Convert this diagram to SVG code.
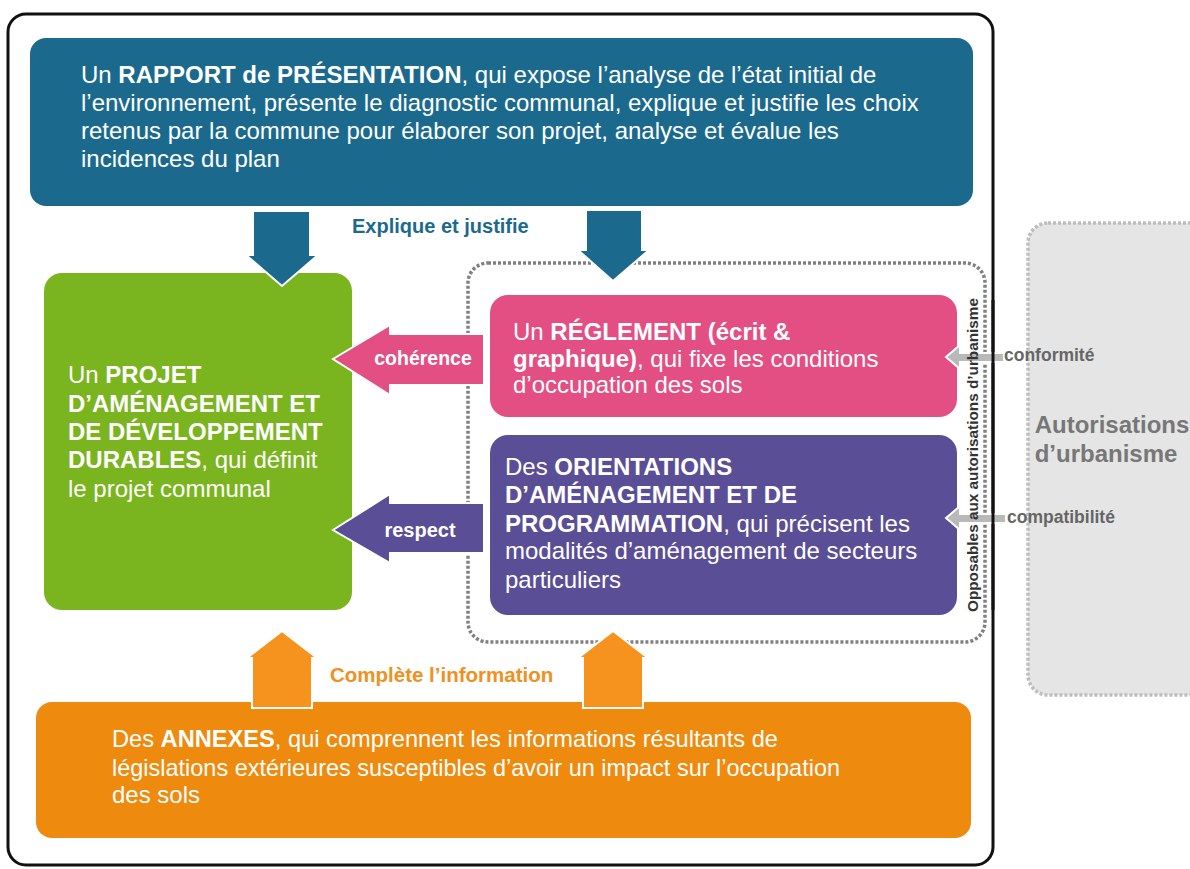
<svg xmlns="http://www.w3.org/2000/svg" width="1190" height="869" viewBox="0 0 1190 869">
<style>
  .t { font-family: "Liberation Sans", Arial, sans-serif; fill: #ffffff; font-size: 24px; }
  .b { font-weight: bold; }
  .lbl { font-family: "Liberation Sans", Arial, sans-serif; font-weight: bold; }
  .arw { stroke: #ffffff; stroke-width: 2; stroke-linejoin: miter; }
</style>
<rect width="1190" height="869" fill="#ffffff"/>

<!-- right grey box -->
<g id="autorisations">
  <rect x="1028" y="223" width="190" height="472" rx="20" fill="#e5e5e5" stroke="#bdbdbd" stroke-width="3.5" stroke-dasharray="3 2"/>
  <text class="lbl" x="1112" y="433" font-size="24" fill="#777777" text-anchor="middle">Autorisations</text>
  <text class="lbl" x="1106" y="462" font-size="24" fill="#777777" text-anchor="middle">d’urbanisme</text>
</g>

<!-- outer frame -->
<rect x="8" y="14" width="985" height="851" rx="18" fill="#ffffff" stroke="#111111" stroke-width="3"/>

<!-- dotted group -->
<rect x="468" y="263" width="517" height="379" rx="20" fill="none" stroke="#808080" stroke-width="3.5" stroke-dasharray="3 2"/>

<g id="rapport">
  <rect x="30" y="38" width="943" height="168" rx="16" fill="#1b6a8e"/>
  <text class="t" x="81" y="83">Un <tspan class="b">RAPPORT de PRÉSENTATION</tspan>, qui expose l’analyse de l’état initial de</text>
  <text class="t" x="81" y="111">l’environnement, présente le diagnostic communal, explique et justifie les choix</text>
  <text class="t" x="81" y="139">retenus par la commune pour élaborer son projet, analyse et évalue les</text>
  <text class="t" x="81" y="167">incidences du plan</text>
</g>

<g id="padd">
  <rect x="44" y="273" width="308" height="337" rx="18" fill="#7ab41e"/>
  <text class="t" x="68" y="383">Un <tspan class="b">PROJET</tspan></text>
  <text class="t b" x="68" y="412">D’AMÉNAGEMENT ET</text>
  <text class="t b" x="68" y="440">DE DÉVELOPPEMENT</text>
  <text class="t" x="68" y="468"><tspan class="b">DURABLES</tspan>, qui définit</text>
  <text class="t" x="68" y="497">le projet communal</text>
</g>

<g id="reglement">
  <rect x="490" y="295" width="467" height="122" rx="18" fill="#e34f82"/>
  <text class="t" x="513" y="340">Un <tspan class="b">RÉGLEMENT (écrit &amp;</tspan></text>
  <text class="t" x="513" y="367"><tspan class="b">graphique)</tspan>, qui fixe les conditions</text>
  <text class="t" x="513" y="393">d’occupation des sols</text>
</g>

<g id="oap">
  <rect x="490" y="435" width="467" height="180" rx="18" fill="#5a4e96"/>
  <text class="t" x="505" y="475">Des <tspan class="b">ORIENTATIONS</tspan></text>
  <text class="t b" x="505" y="503">D’AMÉNAGEMENT ET DE</text>
  <text class="t" x="505" y="532"><tspan class="b">PROGRAMMATION</tspan>, qui précisent les</text>
  <text class="t" x="505" y="559">modalités d’aménagement de secteurs</text>
  <text class="t" x="505" y="588">particuliers</text>
</g>

<g id="annexes">
  <rect x="36" y="702" width="935" height="136" rx="16" fill="#ee8a0e"/>
  <text class="t" x="112" y="747" textLength="666" lengthAdjust="spacingAndGlyphs">Des <tspan class="b">ANNEXES</tspan>, qui comprennent les informations résultants de</text>
  <text class="t" x="112" y="776" textLength="728" lengthAdjust="spacingAndGlyphs">législations extérieures susceptibles d’avoir un impact sur l’occupation</text>
  <text class="t" x="112" y="803" textLength="88" lengthAdjust="spacingAndGlyphs">des sols</text>
</g>

<g id="connectors">
  <!-- blue down arrows -->
  <polygon class="arw" fill="#1b6a8e" points="253,211 310,211 310,255 318,255 282,286 246,255 253,255"/>
  <polygon class="arw" fill="#1b6a8e" points="586,210 642,210 642,250 649,250 613,281 578,250 586,250"/>
  <!-- coherence / respect -->
  <polygon class="arw" fill="#e34f82" points="333,359 390,325 390,334 484,334 484,385 390,385 390,395"/>
  <polygon class="arw" fill="#5a4e96" points="333,530 390,494 390,503 484,503 484,553 390,553 390,563"/>
  <!-- orange up arrows -->
  <polygon class="arw" fill="#f6931e" points="282,631 317,658 312,658 312,708 252,708 252,658 247,658"/>
  <polygon class="arw" fill="#f6931e" points="613,631 648,658 643,658 643,708 583,708 583,658 578,658"/>
  <!-- grey arrows -->
  <polygon class="arw" fill="#b9b9b9" stroke-width="1.5" points="946,357 960,345 960,353 1004,353 1004,362 960,362 960,369"/>
  <polygon class="arw" fill="#b9b9b9" stroke-width="1.5" points="946,518 960,506 960,514 1006,514 1006,523 960,523 960,530"/>
</g>

<text class="lbl" font-size="14.5" fill="#333333" text-anchor="middle" textLength="314" lengthAdjust="spacingAndGlyphs" transform="translate(978,455) rotate(-90)">Opposables aux autorisations d’urbanisme</text>
<line x1="993" y1="300" x2="993" y2="610" stroke="#111111" stroke-width="3"/>

<text class="lbl" x="352" y="233" font-size="20" fill="#1b6a8e">Explique et justifie</text>
<text class="lbl" x="330" y="682" font-size="20.5" fill="#f0901e">Complète l’information</text>
<text class="lbl" x="423" y="365" font-size="19.5" fill="#ffffff" text-anchor="middle">cohérence</text>
<text class="lbl" x="420" y="537" font-size="20" fill="#ffffff" text-anchor="middle">respect</text>
<text class="lbl" x="1004" y="361" font-size="17.5" fill="#666666">conformité</text>
<text class="lbl" x="1007" y="523" font-size="17.5" fill="#666666">compatibilité</text>
</svg>
